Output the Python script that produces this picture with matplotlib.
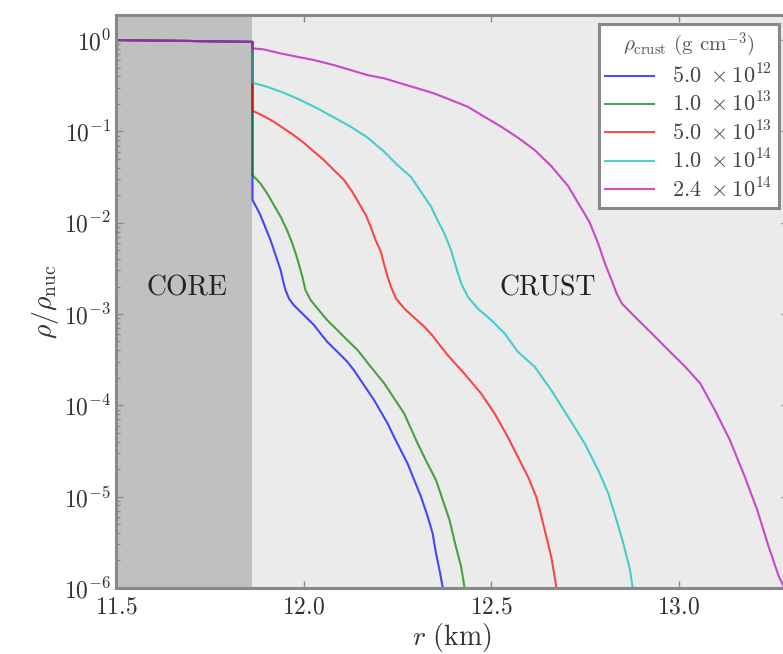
# Density profiles in the core and crust for several crust-core transition densities

import numpy as np
import matplotlib.pyplot as plt

# ------------------#
# Data (log10 of rho/rho_nuc)
# ------------------#

r_core_edge = 11.864  # km
core_r = [11.5, 11.7, r_core_edge]
core_logrho = [0.0, -0.01, -0.02]

labels = [r'$5.0\ \times10^{12}$', r'$1.0\ \times10^{13}$', r'$5.0\ \times10^{13}$',
          r'$1.0\ \times10^{14}$', r'$2.4\ \times10^{14}$']
colors = ['b', 'g', 'r', 'c', 'm']

r_5e12 = [11.864, 11.876, 11.885, 11.894, 11.903, 11.912, 11.921, 11.930, 11.939,
          11.947, 11.952, 11.961, 11.974, 11.992, 12.010, 12.028, 12.045, 12.063,
          12.081, 12.099, 12.117, 12.134, 12.152, 12.170, 12.188, 12.206, 12.224,
          12.241, 12.259, 12.277, 12.295, 12.313, 12.331, 12.344, 12.353, 12.364, 12.371]
logrho_5e12 = [-1.752, -1.843, -1.917, -2.008, -2.100, -2.191, -2.300, -2.410, -2.519,
               -2.665, -2.738, -2.829, -2.903, -2.976, -3.048, -3.122, -3.213, -3.304,
               -3.377, -3.450, -3.524, -3.614, -3.724, -3.833, -3.943, -4.071, -4.198,
               -4.345, -4.491, -4.636, -4.819, -5.002, -5.221, -5.403, -5.622, -5.841, -6.0]

r_1e13 = [11.864, 11.885, 11.903, 11.921, 11.939, 11.956, 11.970, 11.979, 11.987,
          11.997, 12.005, 12.019, 12.037, 12.063, 12.090, 12.112, 12.144, 12.179,
          12.215, 12.241, 12.268, 12.284, 12.304, 12.330, 12.353, 12.371, 12.389,
          12.406, 12.420, 12.429]
logrho_1e13 = [-1.479, -1.570, -1.679, -1.807, -1.935, -2.081, -2.227, -2.336, -2.446,
               -2.593, -2.738, -2.848, -2.939, -3.067, -3.176, -3.267, -3.395, -3.578,
               -3.760, -3.921, -4.089, -4.235, -4.417, -4.636, -4.819, -5.038, -5.257,
               -5.550, -5.769, -6.0]

r_5e13 = [11.864, 11.894, 11.921, 11.947, 11.974, 12.001, 12.028, 12.054, 12.081,
          12.108, 12.130, 12.148, 12.166, 12.179, 12.192, 12.206, 12.214, 12.224,
          12.233, 12.246, 12.268, 12.295, 12.322, 12.340, 12.384, 12.428, 12.473,
          12.509, 12.544, 12.571, 12.598, 12.620, 12.634, 12.647, 12.660, 12.674]
logrho_5e13 = [-0.774, -0.832, -0.895, -0.967, -1.041, -1.125, -1.223, -1.314, -1.424,
               -1.533, -1.662, -1.789, -1.917, -2.045, -2.191, -2.319, -2.446, -2.593,
               -2.702, -2.829, -2.939, -3.040, -3.140, -3.220, -3.450, -3.651, -3.870,
               -4.089, -4.345, -4.564, -4.783, -5.002, -5.221, -5.440, -5.659, -6.0]

r_1e14 = [11.864, 11.903, 11.947, 11.992, 12.037, 12.081, 12.126, 12.170, 12.215,
          12.250, 12.286, 12.313, 12.340, 12.357, 12.375, 12.393, 12.406, 12.420,
          12.438, 12.464, 12.500, 12.536, 12.571, 12.616, 12.660, 12.705, 12.749,
          12.785, 12.812, 12.834, 12.852, 12.870, 12.877]
logrho_1e14 = [-0.468, -0.511, -0.577, -0.657, -0.748, -0.847, -0.950, -1.066, -1.223,
               -1.369, -1.497, -1.662, -1.826, -1.972, -2.117, -2.300, -2.483, -2.665,
               -2.812, -2.939, -3.067, -3.213, -3.414, -3.578, -3.834, -4.126, -4.417,
               -4.710, -4.965, -5.257, -5.513, -5.805, -6.0]

r_24e14 = [11.864, 11.894, 11.939, 11.983, 12.028, 12.081, 12.126, 12.170, 12.215,
           12.259, 12.304, 12.348, 12.393, 12.438, 12.482, 12.527, 12.571, 12.616,
           12.660, 12.705, 12.735, 12.762, 12.785, 12.803, 12.821, 12.834, 12.848,
           12.883, 12.928, 12.972, 13.017, 13.057, 13.096, 13.136, 13.174, 13.209,
           13.238, 13.265, 13.281]
logrho_24e14 = [-0.091, -0.102, -0.146, -0.183, -0.219, -0.274, -0.329, -0.383, -0.419,
                -0.474, -0.529, -0.584, -0.657, -0.731, -0.840, -0.950, -1.068, -1.205,
                -1.380, -1.599, -1.807, -1.993, -2.227, -2.446, -2.629, -2.774, -2.884,
                -3.031, -3.213, -3.395, -3.578, -3.760, -4.053, -4.381, -4.764, -5.148,
                -5.531, -5.860, -6.0]

r_list = [r_5e12, r_1e13, r_5e13, r_1e14, r_24e14]
logrho_list = [logrho_5e12, logrho_1e13, logrho_5e13, logrho_1e14, logrho_24e14]


if __name__ == '__main__':

    plt.rcParams['font.family'] = 'serif'
    plt.rcParams['font.serif'] = ['cmr10']
    plt.rcParams['mathtext.fontset'] = 'cm'
    plt.rcParams['axes.formatter.use_mathtext'] = True

    fig = plt.figure(figsize=(7.83, 6.54), dpi=100)
    ax = fig.add_axes([0.148, 0.101, 0.858, 0.876])
    ax.set_facecolor('#ebebeb')
    ax.axvspan(11.5, r_core_edge, color='#c0c0c0', lw=0, zorder=0)

    for r, logrho, col, lab in zip(r_list, logrho_list, colors, labels):
        rho = 10**np.array(core_logrho + logrho)
        ax.plot(core_r + r, rho, color=col, alpha=0.7, lw=1.5, label=lab)

    ax.set_yscale('log')
    ax.set_xlim(11.5, 13.29)
    ax.set_ylim(1e-6, 1.88)
    ax.set_xticks([11.5, 12.0, 12.5, 13.0])
    ax.set_yticks([1e0, 1e-1, 1e-2, 1e-3, 1e-4, 1e-5, 1e-6])

    ax.tick_params(which='both', direction='in', top=True, right=True,
                   color='#888888', labelcolor='#333333', labelsize=17)
    ax.tick_params(which='major', length=5, width=1)
    ax.tick_params(which='minor', length=3, width=1)
    ax.tick_params(axis='x', pad=6)
    for sp in ax.spines.values():
        sp.set_color('#888888')
        sp.set_linewidth(2.2)

    ax.text(11.69, 1.9e-3, 'CORE', ha='center', va='center', fontsize=20, color='#222222')
    ax.text(12.65, 1.9e-3, 'CRUST', ha='center', va='center', fontsize=20, color='#222222')

    ax.set_xlabel(r'$r\ \rm (km)$', fontsize=20, color='#333333', labelpad=2)
    ax.set_ylabel(r'$\rho/\rho_{\rm nuc}$', fontsize=20, color='#333333', labelpad=2)

    leg = ax.legend(loc='upper right', title=r'$\rho_{\rm crust}$ (g cm$^{-3}$)',
                    fontsize=16, title_fontsize=15, fancybox=False, framealpha=1,
                    handlelength=2.2, borderaxespad=0.4, labelspacing=0.2,
                    borderpad=0.3)
    leg.get_frame().set_edgecolor('#888888')
    leg.get_frame().set_linewidth(2.2)
    for t in leg.get_texts():
        t.set_color('#444444')
    leg.get_title().set_color('#555555')

    plt.savefig("out.png", dpi=100)
